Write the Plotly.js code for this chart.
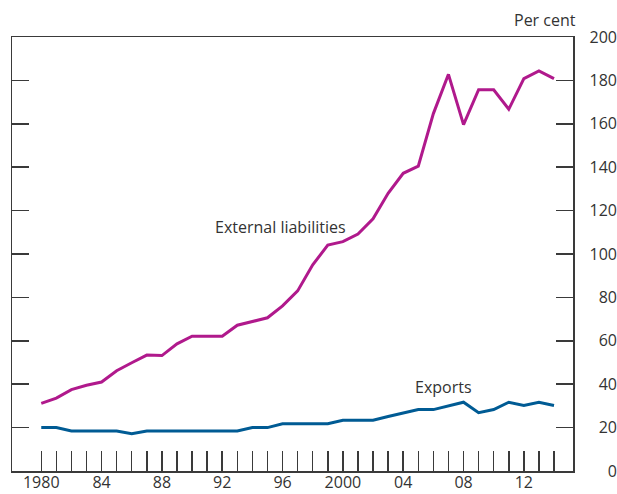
<!DOCTYPE html>
<html>
<head>
<meta charset="utf-8">
<script src="https://cdn.plot.ly/plotly-3.0.1.min.js"></script>
<style>html,body{margin:0;padding:0;background:#fff}#chart{width:617px;height:494px}</style>
</head>
<body>
<div id="chart"></div>
<script>
const years = [1980,1981,1982,1983,1984,1985,1986,1987,1988,1989,1990,1991,1992,1993,1994,1995,1996,1997,1998,1999,2000,2001,2002,2003,2004,2005,2006,2007,2008,2009,2010,2011,2012,2013,2014];
const externalLiabilities = [31.2,33.6,37.5,39.5,41,46.2,49.9,53.4,53.2,58.6,62.1,62.1,62.1,67.2,69,70.6,76.1,83,95,104.1,105.7,109.2,116.2,128,137.2,140.5,164.7,182.8,159.6,175.7,175.7,166.7,180.8,184.4,180.8];
const exportsSeries = [20,20,18.4,18.4,18.4,18.4,17.2,18.4,18.4,18.4,18.4,18.4,18.4,18.4,20,20,21.75,21.75,21.75,21.75,23.4,23.4,23.4,25.1,26.6,28.3,28.3,29.9,31.7,26.9,28.3,31.7,30.2,31.7,30.2];
const xLabelYears = [1980,1984,1988,1992,1996,2000,2004,2008,2012];
const xLabelText = ["1980","84","88","92","96","2000","04","08","12"];
const yTickVals = [0,20,40,60,80,100,120,140,160,180,200];

const font = {family: "Open Sans, Noto Sans, sans-serif", size: 16, color: "#333333"};
const axisColor = "#3a3a3a";

const traces = [
  {x: years, y: externalLiabilities, type: "scatter", mode: "lines", line: {color: "#b0198c", width: 3}, hoverinfo: "skip"},
  {x: years, y: exportsSeries, type: "scatter", mode: "lines", line: {color: "#005b94", width: 3}, hoverinfo: "skip"},
  {x: [years[0]], y: [0], yaxis: "y2", type: "scatter", mode: "markers", marker: {opacity: 0}, hoverinfo: "skip"}
];

const tickText = years.map(y => { const i = xLabelYears.indexOf(y); return i >= 0 ? xLabelText[i] : ""; });

const layout = {
  width: 617, height: 494,
  margin: {l: 12, r: 0, t: 37, b: 23},
  paper_bgcolor: "#ffffff", plot_bgcolor: "#ffffff",
  showlegend: false,
  font: font,
  xaxis: {
    domain: [0, 0.9273],
    range: [1978.06, 2015.26],
    tickmode: "array", tickvals: years, ticktext: tickText,
    ticks: "inside", ticklen: 20, tickwidth: 1.5, tickcolor: axisColor,
    ticklabelstandoff: -4,
    showline: true, linecolor: axisColor, linewidth: 1.5, mirror: true,
    showgrid: false, zeroline: false, fixedrange: true,
    tickfont: font
  },
  yaxis: {
    range: [0, 200], side: "right",
    tickmode: "array", tickvals: yTickVals,
    ticks: "inside", ticklen: 17, tickwidth: 1.5, tickcolor: axisColor,
    showticklabels: false,
    showline: true, linecolor: axisColor, linewidth: 1.5, mirror: "ticks",
    showgrid: false, zeroline: false, fixedrange: true
  },
  yaxis2: {
    overlaying: "y", anchor: "free", position: 1, side: "left",
    range: [0, 200], tickmode: "array", tickvals: yTickVals,
    ticks: "", showline: false, showgrid: false, zeroline: false,
    tickfont: font, fixedrange: true
  },
  annotations: [
    {text: "External liabilities", x: 1995.84, y: 112.4, xref: "x", yref: "y", showarrow: false, font: font, xanchor: "center", yanchor: "middle"},
    {text: "Exports", x: 2006.64, y: 38.9, xref: "x", yref: "y", showarrow: false, font: font, xanchor: "center", yanchor: "middle"},
    {text: "Per cent", x: 0, y: 0, xref: "paper", yref: "paper", showarrow: false, font: font, xanchor: "right", yanchor: "middle"}
  ]
};
// convert pixel position of "Per cent" to paper coords
layout.annotations[2].x = (578 - 12) / (617 - 12);
layout.annotations[2].y = (471 - 20) / (471 - 37);

Plotly.newPlot("chart", traces, layout, {staticPlot: true, displayModeBar: false});
</script>
</body>
</html>
